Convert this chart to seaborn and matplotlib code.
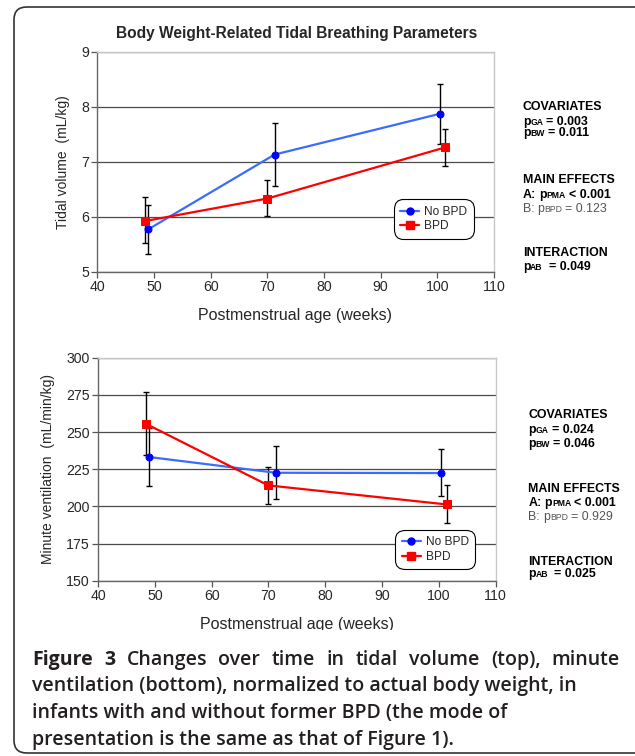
import matplotlib
matplotlib.use("Agg")
import matplotlib.pyplot as plt
from matplotlib.patches import FancyBboxPatch, Rectangle
from matplotlib.lines import Line2D
import seaborn as sns
import pandas as pd

# ---------------- data ----------------
groups = ["No BPD", "BPD"]
pma_nobpd = [49.0, 71.3, 100.4]
pma_bpd = [48.4, 70.0, 101.4]

tv_nobpd = [5.77, 7.13, 7.87]
tv_nobpd_lo = [5.33, 6.55, 7.33]
tv_nobpd_hi = [6.21, 7.70, 8.41]
tv_bpd = [5.92, 6.33, 7.26]
tv_bpd_lo = [5.53, 6.01, 6.93]
tv_bpd_hi = [6.35, 6.66, 7.60]

mv_nobpd = [233.2, 222.6, 222.4]
mv_nobpd_lo = [213.7, 204.7, 207.0]
mv_nobpd_hi = [252.9, 240.6, 238.3]
mv_bpd = [255.6, 214.1, 201.3]
mv_bpd_lo = [234.3, 201.8, 188.6]
mv_bpd_hi = [277.1, 226.7, 214.4]

xticks = [40, 50, 60, 70, 80, 90, 100, 110]
tv_ticks = [5, 6, 7, 8, 9]
mv_ticks = [150, 175, 200, 225, 250, 275, 300]

title = "Body Weight-Related Tidal Breathing Parameters"
xlabel = "Postmenstrual age (weeks)"
tv_label = "Tidal volume  (mL/kg)"
mv_label = "Minute ventilation  (mL/min/kg)"

tv_stats = ["0.003", "0.011", "< 0.001", "= 0.123", "0.049"]
mv_stats = ["0.024", "0.046", "< 0.001", "= 0.929", "0.025"]

caption_bold = "Figure 3"
caption_lines = [
    "Changes over time in tidal volume (top), minute",
    "ventilation (bottom), normalized to actual body weight, in",
    "infants with and without former BPD (the mode of",
    "presentation is the same as that of Figure 1).",
]

# ---------------- style ----------------
sns.set_theme(style="white")
plt.rcParams["font.family"] = ["Liberation Sans", "DejaVu Sans"]

W, H = 635, 756
fig = plt.figure(figsize=(W / 100, H / 100), dpi=100)
fig.patch.set_facecolor("white")
renderer = fig.canvas.get_renderer()


def fx(px):
    return px / W


def fy(py):
    return 1 - py / H


ax1 = fig.add_axes([fx(97.2), fy(271.7), fx(494 - 97.2), (271.7 - 51.7) / H])
ax2 = fig.add_axes([fx(98), fy(580.7), fx(495.5 - 98), (580.7 - 357.7) / H])

line_colors = {"No BPD": "#3a6cff", "BPD": "#ff0000"}
marker_colors = {"No BPD": "#0000ff", "BPD": "#ff0000"}
markers = {"No BPD": "o", "BPD": "s"}
msize = {"No BPD": 5.0, "BPD": 6.2}


def panel(ax, y_nb, lo_nb, hi_nb, y_b, lo_b, hi_b, yticks, ylabel, leg_top):
    df = pd.DataFrame({
        "pma": pma_nobpd + pma_bpd,
        "val": y_nb + y_b,
        "group": [groups[0]] * len(pma_nobpd) + [groups[1]] * len(pma_bpd),
    })
    for t in yticks:
        ax.axhline(t, color="#4a4a4a", lw=0.9, zorder=0.5)
    for xs, ys, lo, hi in [(pma_nobpd, y_nb, lo_nb, hi_nb), (pma_bpd, y_b, lo_b, hi_b)]:
        yerr = [[y - l for y, l in zip(ys, lo)], [h - y for y, h in zip(ys, hi)]]
        ax.errorbar(xs, ys, yerr=yerr, fmt="none", ecolor="black", elinewidth=1.0,
                    capsize=2.2, capthick=1.0, zorder=2)
    sns.lineplot(data=df, x="pma", y="val", hue="group", style="group",
                 hue_order=groups, style_order=groups, palette=line_colors,
                 markers=markers, dashes=False, lw=1.6, markersize=5.5,
                 ax=ax, legend=False, zorder=3, sort=False)
    for ln, g in zip(ax.lines[-2:], groups):
        ln.set_markerfacecolor(marker_colors[g])
        ln.set_markeredgecolor(marker_colors[g])
        ln.set_markersize(msize[g])
    ax.set_xlim(40, 110)
    ax.set_ylim(yticks[0], yticks[-1])
    ax.set_xticks(xticks)
    ax.set_yticks(yticks)
    ax.tick_params(axis="both", direction="out", length=4, width=0.9, color="#555555",
                   labelsize=10.2, pad=2, left=True, bottom=True)
    for side in ["left", "bottom"]:
        ax.spines[side].set_color("#666666")
        ax.spines[side].set_linewidth(1.0)
    for side in ["top", "right"]:
        ax.spines[side].set_color("#c8c8c8")
        ax.spines[side].set_linewidth(1.0)
    ax.set_xlabel(xlabel, fontsize=11.5, labelpad=10)
    ax.set_ylabel(ylabel, fontsize=10, labelpad=8)
    handles = [Line2D([], [], color=line_colors[g], lw=1.6, marker=markers[g],
                      markerfacecolor=marker_colors[g], markeredgecolor=marker_colors[g],
                      markersize=msize[g]) for g in groups]
    leg = ax.legend(handles, groups, loc="upper left", bbox_to_anchor=(0.755, leg_top),
                    borderaxespad=0, fontsize=8.6, frameon=True, fancybox=True,
                    edgecolor="black", handlelength=1.6, handletextpad=0.4,
                    borderpad=0.3, labelspacing=0.2, framealpha=1)
    leg.get_frame().set_linewidth(0.8)
    leg.get_frame().set_boxstyle("round", pad=0.25, rounding_size=0.8)


panel(ax1, tv_nobpd, tv_nobpd_lo, tv_nobpd_hi, tv_bpd, tv_bpd_lo, tv_bpd_hi,
      tv_ticks, tv_label, 0.315)
panel(ax2, mv_nobpd, mv_nobpd_lo, mv_nobpd_hi, mv_bpd, mv_bpd_lo, mv_bpd_hi,
      mv_ticks, mv_label, 0.215)

ax1.set_title(title, fontsize=11.2, fontweight="bold", pad=10,
              x=(297 - 97.2) / (494 - 97.2))
ax1.xaxis.label.set_x((295 - 97.2) / (494 - 97.2))


def place_pieces(x_px, base_px, pieces, zorder=3):
    """pieces: list of (text, fontsize, weight, color, family, gap_after_px)"""
    x = x_px
    arts = []
    for txt, fs, wt, col, fam, gap in pieces:
        t = fig.text(fx(x), fy(base_px), txt, fontsize=fs, fontweight=wt, color=col,
                     family=fam, ha="left", va="baseline", zorder=zorder)
        ext = t.get_window_extent(renderer)
        x = ext.x1 + gap
        arts.append(t)
    return x


SANS = ["Liberation Sans", "DejaVu Sans"]


def stats_block(x, bases, vals, fs):
    sub = fs * 0.7
    b, r = "bold", "normal"
    k, g = "black", "#555555"
    place_pieces(x, bases[0], [("COVARIATES", fs, b, k, SANS, 0)])
    place_pieces(x, bases[1], [("p", fs, b, k, SANS, 0), ("GA", sub, b, k, SANS, 3),
                               ("= " + vals[0], fs, b, k, SANS, 0)])
    place_pieces(x, bases[2], [("p", fs, b, k, SANS, 0), ("BW", sub, b, k, SANS, 3),
                               ("= " + vals[1], fs, b, k, SANS, 0)])
    place_pieces(x, bases[3], [("MAIN EFFECTS", fs, b, k, SANS, 0)])
    place_pieces(x, bases[4], [("A:", fs, b, k, SANS, 3), ("p", fs, b, k, SANS, 0),
                               ("PMA", sub, b, k, SANS, 3),
                               (vals[2], fs, b, k, SANS, 0)])
    place_pieces(x, bases[5], [("B:", fs, r, g, SANS, 3), ("p", fs, r, g, SANS, 0),
                               ("BPD", sub, r, g, SANS, 3),
                               (vals[3], fs, r, g, SANS, 0)])
    place_pieces(x, bases[6], [("INTERACTION", fs, b, k, SANS, 0)])
    place_pieces(x, bases[7], [("p", fs, b, k, SANS, 0), ("AB", sub, b, k, SANS, 6),
                               ("= " + vals[4], fs, b, k, SANS, 0)])


stats_block(522.7, [110, 125, 136, 182.7, 197.7, 211.7, 255.7, 270], tv_stats, 8.9)
stats_block(528.3, [418.3, 433.3, 446.7, 491.7, 506, 520, 565, 576.7], mv_stats, 8.9)

# caption area (covers the bottom of the lower x label, as in the source)
fig.add_artist(Rectangle((fx(15), 0), 1, fy(630), transform=fig.transFigure,
                         facecolor="white", edgecolor="none", zorder=5))
CAP = ["Open Sans", "DejaVu Sans"]
cap_fs = 14.0
cap_col = "#231f20"
cap_left, cap_right = 32, 620
bases = [665, 691.5, 718, 744.5]

# first line: justified
words = [(w, "bold") for w in caption_bold.split()] + \
        [(w, "semibold") for w in caption_lines[0].split()]
tmp = []
for w, wt in words:
    t = fig.text(0, 0, w, fontsize=cap_fs, fontweight=wt, family=CAP, ha="left",
                 va="baseline", zorder=6, color=cap_col)
    tmp.append(t)
widths = [t.get_window_extent(renderer).width for t in tmp]
gap = (cap_right - cap_left - sum(widths)) / (len(words) - 1)
x = cap_left
for t, wdt in zip(tmp, widths):
    t.set_position((fx(x), fy(bases[0])))
    x += wdt + gap

for base, txt in zip(bases[1:], caption_lines[1:]):
    fig.text(fx(cap_left), fy(base), txt, fontsize=cap_fs, fontweight="semibold",
             family=CAP, ha="left", va="baseline", zorder=6, color=cap_col)

# rounded frame
frame = FancyBboxPatch((fx(14), fy(753)), 1.2, fy(7) - fy(753),
                       boxstyle="round,pad=0,rounding_size=0.02",
                       transform=fig.transFigure, facecolor="none",
                       edgecolor="#333333", linewidth=1.2, zorder=7,
                       mutation_aspect=W / H)
fig.add_artist(frame)

fig.savefig("out.png", dpi=100)
